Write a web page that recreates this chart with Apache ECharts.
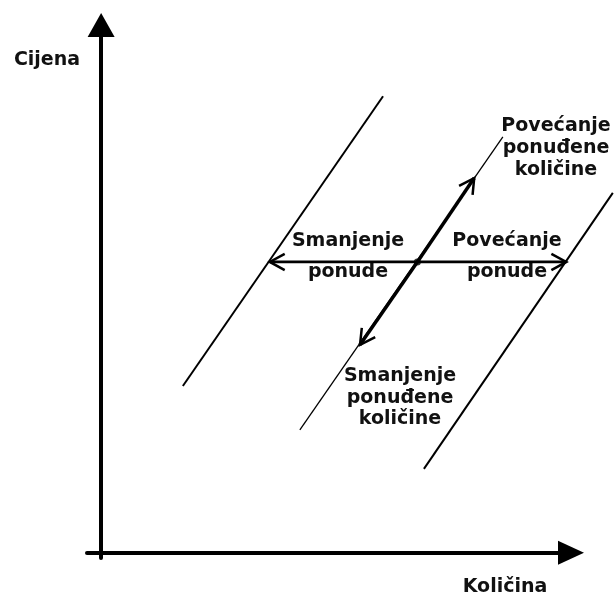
<!DOCTYPE html>
<html>
<head>
<meta charset="utf-8">
<script src="https://cdn.jsdelivr.net/npm/echarts@6/dist/echarts.min.js"></script>
<style>
  html, body { margin: 0; padding: 0; background: #fff; }
  #chart { width: 614px; height: 593px; }
</style>
</head>
<body>
<div id="chart"></div>
<script>
// ---- data (arbitrary units) ----
const axisTitles = ['Količina', 'Cijena'];
const supplyLeft = [[17.4, 31.6], [60.0, 86.5]];     // shifted-left supply curve
const supplyMiddle = [[42.3, 23.3], [85.5, 78.8]];   // original supply curve
const supplyRight = [[68.7, 15.9], [108.9, 68.2]];   // shifted-right supply curve
const equilibrium = [67.3, 55.1];
const supplyDecreaseTip = [35.9, 55.1];
const supplyIncreaseTip = [99.0, 55.1];
const quantityIncreaseTip = [79.4, 71.0];
const quantityDecreaseTip = [55.1, 39.4];
const shiftLabels = ['Smanjenje\nponude', 'Povećanje\nponude'];
const movementLabels = ['Povećanje\nponuđene\nkoličine', 'Smanjenje\nponuđene\nkoličine'];

const FONT = 'bold 19px "DejaVu Sans"';
const INK = '#000';

function segmentItem(params, api) {
  const p0 = api.coord([api.value(0), api.value(1)]);
  const p1 = api.coord([api.value(2), api.value(3)]);
  return { type: 'line', shape: { x1: p0[0], y1: p0[1], x2: p1[0], y2: p1[1] }, style: { stroke: INK, lineWidth: api.value(4) } };
}

function arrowItem(params, api) {
  const p0 = api.coord([api.value(0), api.value(1)]);
  const p1 = api.coord([api.value(2), api.value(3)]);
  const w = api.value(4);
  const dx = p1[0] - p0[0], dy = p1[1] - p0[1];
  const len = Math.hypot(dx, dy);
  const bx = -dx / len, by = -dy / len;
  const L = 17, a = 0.5;
  const c = Math.cos(a), s = Math.sin(a);
  const h1 = [p1[0] + L * (bx * c - by * s), p1[1] + L * (bx * s + by * c)];
  const h2 = [p1[0] + L * (bx * c + by * s), p1[1] + L * (-bx * s + by * c)];
  return {
    type: 'group',
    children: [
      { type: 'polyline', shape: { points: [p0, p1] }, style: { stroke: INK, lineWidth: w, fill: null } },
      { type: 'polyline', shape: { points: [h1, p1, h2] }, style: { stroke: INK, lineWidth: 2.5, fill: null, lineJoin: 'miter' } }
    ]
  };
}

const supplyCurves = [
  [supplyLeft[0][0], supplyLeft[0][1], supplyLeft[1][0], supplyLeft[1][1], 2],
  [supplyMiddle[0][0], supplyMiddle[0][1], supplyMiddle[1][0], supplyMiddle[1][1], 1.3],
  [supplyRight[0][0], supplyRight[0][1], supplyRight[1][0], supplyRight[1][1], 2]
];
const shiftArrows = [
  [equilibrium[0], equilibrium[1], supplyDecreaseTip[0], supplyDecreaseTip[1], 2.8],
  [equilibrium[0], equilibrium[1], supplyIncreaseTip[0], supplyIncreaseTip[1], 2.8]
];
const movementArrows = [
  [equilibrium[0], equilibrium[1], quantityIncreaseTip[0], quantityIncreaseTip[1], 3.5],
  [equilibrium[0], equilibrium[1], quantityDecreaseTip[0], quantityDecreaseTip[1], 3.5]
];

const chart = echarts.init(document.getElementById('chart'), null, { renderer: 'canvas' });

const labelStyle = (text, x, y, lh) => ({
  type: 'text', x: x, y: y, silent: true,
  style: { text: text, font: FONT, fill: '#111', textAlign: 'center', textVerticalAlign: 'middle', lineHeight: lh }
});

chart.setOption({
  backgroundColor: '#fff',
  animation: false,
  grid: { left: 87, right: 43, top: 25, bottom: 35, containLabel: false, outerBoundsMode: 'none' },
  xAxis: {
    type: 'value', min: -3, max: 100,
    name: axisTitles[0], nameLocation: 'end', nameGap: -66,
    nameTextStyle: { fontFamily: 'DejaVu Sans', fontWeight: 'bold', fontSize: 19, color: '#111', align: 'center', verticalAlign: 'top', padding: [25, 0, 0, 0] },
    axisLine: { show: true, onZero: true, symbol: ['none', 'triangle'], symbolSize: [24, 26], lineStyle: { color: INK, width: 4 } },
    axisTick: { show: false }, axisLabel: { show: false }, splitLine: { show: false }
  },
  yAxis: {
    type: 'value', min: -1, max: 100,
    name: axisTitles[1], nameLocation: 'end', nameGap: -35,
    nameTextStyle: { fontFamily: 'DejaVu Sans', fontWeight: 'bold', fontSize: 19, color: '#111', align: 'right', verticalAlign: 'middle', padding: [0, 21, 0, 0] },
    axisLine: { show: true, onZero: true, symbol: ['none', 'triangle'], symbolSize: [27, 24], lineStyle: { color: INK, width: 4 } },
    axisTick: { show: false }, axisLabel: { show: false }, splitLine: { show: false }
  },
  series: [
    { type: 'custom', renderItem: segmentItem, data: supplyCurves, clip: false },
    { type: 'custom', renderItem: arrowItem, data: shiftArrows, clip: false },
    { type: 'custom', renderItem: arrowItem, data: movementArrows, clip: false },
    { type: 'scatter', data: [equilibrium], symbol: 'circle', symbolSize: 7, itemStyle: { color: INK }, z: 5 }
  ],
  graphic: [
    labelStyle(shiftLabels[0], 348, 256.5, 31),
    labelStyle(shiftLabels[1], 507, 256.5, 31),
    labelStyle(movementLabels[0], 556, 148, 22),
    labelStyle(movementLabels[1], 400, 398, 21.5)
  ]
});
</script>
</body>
</html>
